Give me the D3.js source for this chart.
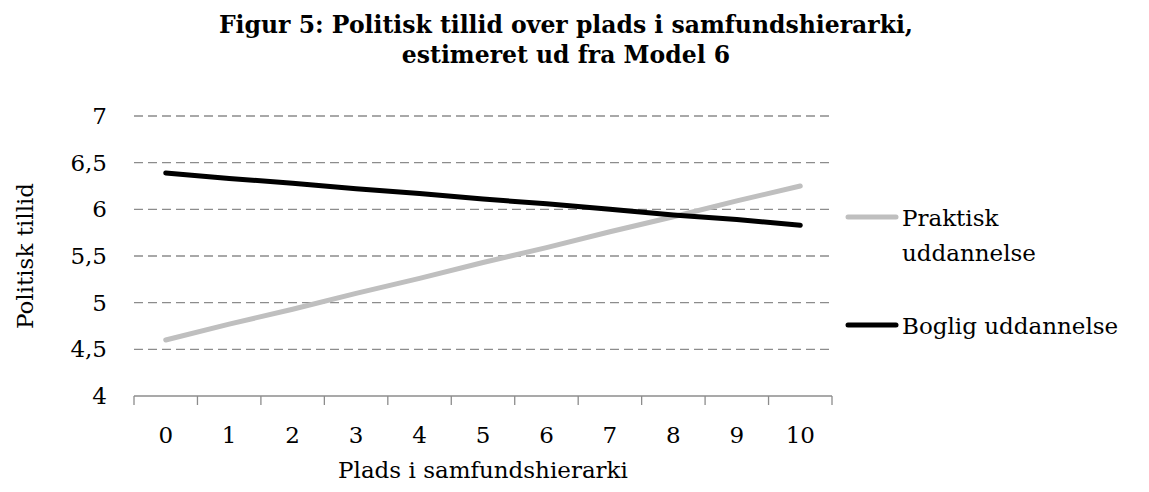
<!DOCTYPE html>
<html>
<head>
<meta charset="utf-8">
<script src="https://cdn.jsdelivr.net/npm/d3@7"></script>
<style>
  body { margin: 0; background: #fff; }
  svg text { font-family: "DejaVu Serif", "Liberation Serif", serif; fill: #000; }
</style>
</head>
<body>
<svg id="chart" width="1149" height="492"></svg>
<script>
// Data
const positions = [0, 1, 2, 3, 4, 5, 6, 7, 8, 9, 10];
const praktisk = [4.60, 4.77, 4.93, 5.10, 5.26, 5.43, 5.59, 5.76, 5.92, 6.09, 6.25];
const boglig   = [6.39, 6.33, 6.28, 6.22, 6.17, 6.11, 6.06, 6.00, 5.94, 5.89, 5.83];
const yTicks = [4, 4.5, 5, 5.5, 6, 6.5, 7];
const seriesNames = ["Praktisk uddannelse", "Boglig uddannelse"];
const titleLines = ["Figur 5: Politisk tillid over plads i samfundshierarki,", "estimeret ud fra Model 6"];

const svg = d3.select("#chart");

const margin = { left: 134, right: 317, top: 116, bottom: 96 };
const W = 1149, H = 492;

const x = d3.scaleBand()
  .domain(positions)
  .range([margin.left, W - margin.right])
  .paddingInner(0).paddingOuter(0);

const y = d3.scaleLinear()
  .domain([4, 7])
  .range([H - margin.bottom, margin.top]);

// title
svg.append("g")
  .selectAll("text")
  .data(titleLines)
  .join("text")
  .attr("x", 566)
  .attr("y", (d, i) => 33 + i * 30)
  .attr("text-anchor", "middle")
  .attr("font-size", 23.5)
  .attr("font-weight", "bold")
  .text(d => d);

// dashed gridlines (skip baseline)
svg.append("g")
  .selectAll("line")
  .data(yTicks.filter(d => d > 4))
  .join("line")
  .attr("x1", x.range()[0])
  .attr("x2", x.range()[1])
  .attr("y1", d => y(d))
  .attr("y2", d => y(d))
  .attr("stroke", "#8c8c8c")
  .attr("stroke-width", 1.3)
  .attr("stroke-dasharray", "9,5");

// y tick labels
svg.append("g")
  .selectAll("text")
  .data(yTicks)
  .join("text")
  .attr("x", 107)
  .attr("y", d => y(d))
  .attr("dy", "0.35em")
  .attr("text-anchor", "end")
  .attr("font-size", 23)
  .text(d => d3.format(".1~f")(d).replace(".", ","));

// x axis line with tick marks between categories
const xAxis = svg.append("g");
xAxis.append("line")
  .attr("x1", x.range()[0])
  .attr("x2", x.range()[1])
  .attr("y1", y(4))
  .attr("y2", y(4))
  .attr("stroke", "#8c8c8c")
  .attr("stroke-width", 1.3);

const edges = positions.map(d => x(d)).concat([x.range()[1]]);
xAxis.selectAll("line.tick")
  .data(edges)
  .join("line")
  .attr("class", "tick")
  .attr("x1", d => d)
  .attr("x2", d => d)
  .attr("y1", y(4))
  .attr("y2", y(4) + 9)
  .attr("stroke", "#8c8c8c")
  .attr("stroke-width", 1.3);

xAxis.selectAll("text")
  .data(positions)
  .join("text")
  .attr("x", d => x(d) + x.bandwidth() / 2)
  .attr("y", 443)
  .attr("text-anchor", "middle")
  .attr("font-size", 23)
  .text(d => d);

// axis titles
svg.append("text")
  .attr("x", x(5) + x.bandwidth() / 2)
  .attr("y", 478)
  .attr("text-anchor", "middle")
  .attr("font-size", 23)
  .text("Plads i samfundshierarki");

svg.append("text")
  .attr("transform", `translate(33, ${y(5.5)}) rotate(-90)`)
  .attr("text-anchor", "middle")
  .attr("font-size", 23)
  .text("Politisk tillid");

// lines
const line = d3.line()
  .x((d, i) => x(positions[i]) + x.bandwidth() / 2)
  .y(d => y(d));

const series = [
  { name: seriesNames[0], values: praktisk, color: "#bfbfbf" },
  { name: seriesNames[1], values: boglig, color: "#000000" }
];

svg.append("g")
  .selectAll("path")
  .data(series)
  .join("path")
  .attr("d", d => line(d.values))
  .attr("fill", "none")
  .attr("stroke", d => d.color)
  .attr("stroke-width", 5)
  .attr("stroke-linecap", "round");

// legend
const legend = svg.append("g");
const legendY = [217, 325];
legend.selectAll("line")
  .data(series)
  .join("line")
  .attr("x1", 848)
  .attr("x2", 896)
  .attr("y1", (d, i) => legendY[i])
  .attr("y2", (d, i) => legendY[i])
  .attr("stroke", d => d.color)
  .attr("stroke-width", 5)
  .attr("stroke-linecap", "round");

legend.append("text")
  .attr("x", 902)
  .attr("y", 226)
  .attr("font-size", 23)
  .selectAll("tspan")
  .data(["Praktisk", "uddannelse"])
  .join("tspan")
  .attr("x", 902)
  .attr("dy", (d, i) => i === 0 ? 0 : 35)
  .text(d => d);

legend.append("text")
  .attr("x", 902)
  .attr("y", 334)
  .attr("font-size", 23)
  .text(seriesNames[1]);
</script>
</body>
</html>
